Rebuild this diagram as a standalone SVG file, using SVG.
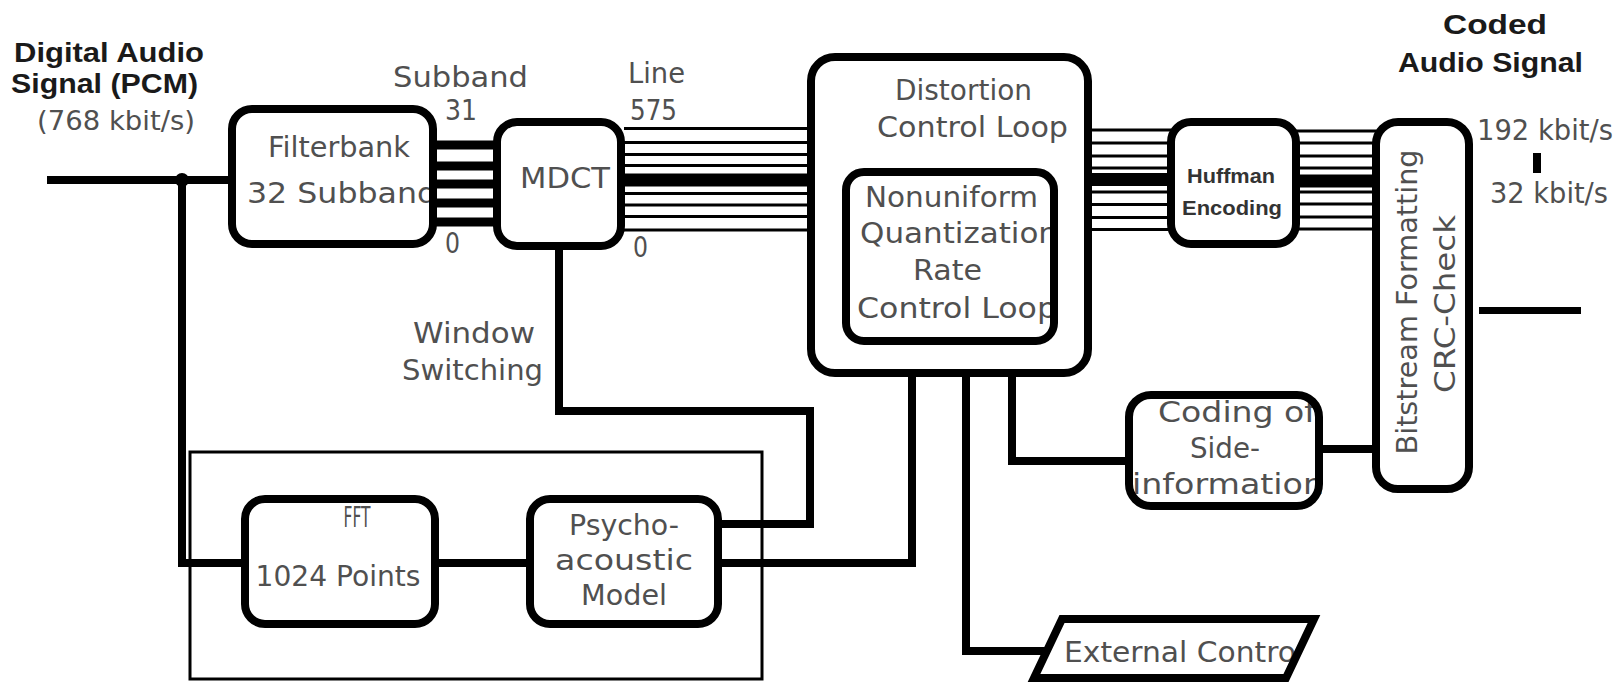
<svg xmlns="http://www.w3.org/2000/svg" width="1618" height="682" viewBox="0 0 1618 682">
<style>
.box{fill:none;stroke:#000;stroke-width:8}
.thin{fill:none;stroke:#000;stroke-width:3}
.wire{fill:none;stroke:#000;stroke-width:8;stroke-linejoin:miter}
.bus{stroke:#000;stroke-width:3}
.busk{stroke:#000;stroke-width:13}
.sb{stroke:#000;stroke-width:9}
.g{font-family:"DejaVu Sans",sans-serif;font-size:29px;fill:#505050}
.b{font-family:"Liberation Sans",Arial,sans-serif;font-weight:bold;font-size:27.5px;fill:#1a1a1a}
.hb{font-family:"Liberation Sans",Arial,sans-serif;font-weight:bold;font-size:21px;fill:#333}
</style>
<rect width="1618" height="682" fill="#fff"/>

<g id="labels">
<text class="b" x="14" y="62" textLength="190" lengthAdjust="spacingAndGlyphs">Digital Audio</text>
<text class="b" x="11" y="93" textLength="187" lengthAdjust="spacingAndGlyphs">Signal (PCM)</text>
<text class="g" x="37" y="130" textLength="158" lengthAdjust="spacingAndGlyphs" style="font-size:27px">(768 kbit/s)</text>
<text class="g" x="393" y="87" textLength="135" lengthAdjust="spacingAndGlyphs">Subband</text>
<text class="g" x="445" y="120" textLength="32" lengthAdjust="spacingAndGlyphs">31</text>
<text class="g" x="445" y="253" textLength="15" lengthAdjust="spacingAndGlyphs">0</text>
<text class="g" x="628" y="83" textLength="57" lengthAdjust="spacingAndGlyphs">Line</text>
<text class="g" x="630" y="120" textLength="47" lengthAdjust="spacingAndGlyphs">575</text>
<text class="g" x="633" y="257" textLength="15" lengthAdjust="spacingAndGlyphs">0</text>
<text class="g" x="413" y="343" textLength="122" lengthAdjust="spacingAndGlyphs">Window</text>
<text class="g" x="402" y="380" textLength="141" lengthAdjust="spacingAndGlyphs">Switching</text>
<text class="b" x="1443" y="34" textLength="104" lengthAdjust="spacingAndGlyphs">Coded</text>
<text class="b" x="1398" y="72" textLength="185" lengthAdjust="spacingAndGlyphs">Audio Signal</text>
<text class="g" x="1477" y="140" textLength="136" lengthAdjust="spacingAndGlyphs">192 kbit/s</text>
<rect x="1533" y="153" width="8" height="20" fill="#000"/>
<text class="g" x="1490" y="203" textLength="118" lengthAdjust="spacingAndGlyphs">32 kbit/s</text>
</g>

<g id="connectors">
<path class="wire" d="M47,180 H232"/>
<circle cx="182" cy="180" r="7" fill="#000"/>
<path class="wire" d="M182,180 V563 H245"/>
<path class="wire" d="M435,563 H530"/>
<path class="wire" d="M718,563 H912 V373"/>
<path class="wire" d="M559,246 V411 H810 V524 H718"/>
<path class="wire" d="M966,373 V651 H1048"/>
<path class="wire" d="M1012,373 V461 H1129"/>
<path class="wire" d="M1319,449 H1376"/>
<path d="M1479,310.5 H1581" stroke="#000" stroke-width="7"/>
<g id="subband-bus">
<line class="sb" x1="433" y1="145" x2="497" y2="145"/>
<line class="sb" x1="433" y1="166" x2="497" y2="166"/>
<line class="sb" x1="433" y1="184" x2="497" y2="184"/>
<line class="sb" x1="433" y1="203" x2="497" y2="203"/>
<line class="sb" x1="433" y1="222" x2="497" y2="222"/>
</g>
<g id="line-bus">
<line class="bus" x1="624" y1="128.5" x2="811" y2="128.5"/>
<line class="bus" x1="624" y1="142.5" x2="811" y2="142.5"/>
<line class="bus" x1="624" y1="154.5" x2="811" y2="154.5"/>
<line class="bus" x1="624" y1="165.5" x2="811" y2="165.5"/>
<line class="busk" x1="624" y1="180" x2="811" y2="180"/>
<line class="bus" x1="624" y1="193.5" x2="811" y2="193.5"/>
<line class="bus" x1="624" y1="205" x2="811" y2="205"/>
<line class="bus" x1="624" y1="216.5" x2="811" y2="216.5"/>
<line class="bus" x1="624" y1="230" x2="811" y2="230"/>
</g>
<g id="huff-in-bus">
<line class="bus" x1="1088" y1="130" x2="1171" y2="130"/>
<line class="bus" x1="1088" y1="143" x2="1171" y2="143"/>
<line class="bus" x1="1088" y1="156" x2="1171" y2="156"/>
<line class="bus" x1="1088" y1="168" x2="1171" y2="168"/>
<line class="busk" x1="1088" y1="179.5" x2="1171" y2="179.5"/>
<line class="bus" x1="1088" y1="192" x2="1171" y2="192"/>
<line class="bus" x1="1088" y1="204.5" x2="1171" y2="204.5"/>
<line class="bus" x1="1088" y1="217.5" x2="1171" y2="217.5"/>
<line class="bus" x1="1088" y1="229.5" x2="1171" y2="229.5"/>
</g>
<g id="huff-out-bus">
<line class="bus" x1="1296" y1="131" x2="1376" y2="131"/>
<line class="bus" x1="1296" y1="143" x2="1376" y2="143"/>
<line class="bus" x1="1296" y1="156" x2="1376" y2="156"/>
<line class="bus" x1="1296" y1="168" x2="1376" y2="168"/>
<line class="busk" x1="1296" y1="181" x2="1376" y2="181"/>
<line class="bus" x1="1296" y1="192" x2="1376" y2="192"/>
<line class="bus" x1="1296" y1="204" x2="1376" y2="204"/>
<line class="bus" x1="1296" y1="217" x2="1376" y2="217"/>
<line class="bus" x1="1296" y1="229" x2="1376" y2="229"/>
</g>
</g>

<g id="psy-group-frame">
<rect class="thin" x="190" y="452" width="572" height="227"/>
</g>

<g id="filterbank">
<text class="g" x="268" y="157" textLength="142" lengthAdjust="spacingAndGlyphs">Filterbank</text>
<text class="g" x="247" y="203" textLength="190" lengthAdjust="spacingAndGlyphs">32 Subband</text>
<rect class="box" x="232" y="109" width="201" height="135" rx="20"/>
</g>

<g id="mdct">
<text class="g" x="520" y="188" textLength="90" lengthAdjust="spacingAndGlyphs">MDCT</text>
<rect class="box" x="497" y="122" width="124" height="124" rx="20"/>
</g>

<g id="distortion">
<text class="g" x="895" y="100" textLength="137" lengthAdjust="spacingAndGlyphs">Distortion</text>
<text class="g" x="877" y="137" textLength="191" lengthAdjust="spacingAndGlyphs">Control Loop</text>
<rect class="box" x="811" y="57" width="277" height="316" rx="24"/>
</g>

<g id="nonuniform">
<text class="g" x="865" y="207" textLength="173" lengthAdjust="spacingAndGlyphs">Nonuniform</text>
<text class="g" x="860" y="243" textLength="198" lengthAdjust="spacingAndGlyphs">Quantization</text>
<text class="g" x="913" y="280" textLength="69" lengthAdjust="spacingAndGlyphs">Rate</text>
<text class="g" x="857" y="318" textLength="200" lengthAdjust="spacingAndGlyphs">Control Loop</text>
<rect class="box" x="846" y="172" width="208" height="169" rx="18"/>
</g>

<g id="huffman">
<text class="hb" x="1187" y="183" textLength="88" lengthAdjust="spacingAndGlyphs">Huffman</text>
<text class="hb" x="1182" y="215" textLength="100" lengthAdjust="spacingAndGlyphs">Encoding</text>
<rect class="box" x="1171" y="122" width="125" height="122" rx="20"/>
</g>

<g id="bitstream">
<text class="g" transform="translate(1417,302) rotate(-90)" text-anchor="middle" textLength="305" lengthAdjust="spacingAndGlyphs">Bitstream Formatting</text>
<text class="g" transform="translate(1455,304) rotate(-90)" text-anchor="middle" textLength="178" lengthAdjust="spacingAndGlyphs">CRC-Check</text>
<rect class="box" x="1376" y="122" width="93" height="367" rx="22"/>
</g>

<g id="side-info">
<text class="g" x="1158" y="422" textLength="158" lengthAdjust="spacingAndGlyphs">Coding of</text>
<text class="g" x="1190" y="458" textLength="70" lengthAdjust="spacingAndGlyphs">Side-</text>
<text class="g" x="1132" y="494" textLength="192" lengthAdjust="spacingAndGlyphs">information</text>
<rect class="box" x="1129" y="395" width="190" height="111" rx="22"/>
</g>

<g id="fft">
<text class="g" x="357" y="527" text-anchor="middle" textLength="27" lengthAdjust="spacingAndGlyphs" style="font-size:28px">FFT</text>
<text class="g" x="338" y="586" text-anchor="middle" textLength="165" lengthAdjust="spacingAndGlyphs">1024 Points</text>
<rect class="box" x="245" y="499" width="190" height="125" rx="20"/>
</g>

<g id="psycho">
<text class="g" x="624" y="535" text-anchor="middle" textLength="110" lengthAdjust="spacingAndGlyphs">Psycho-</text>
<text class="g" x="624" y="570" text-anchor="middle" textLength="138" lengthAdjust="spacingAndGlyphs">acoustic</text>
<text class="g" x="624" y="605" text-anchor="middle" textLength="86" lengthAdjust="spacingAndGlyphs">Model</text>
<rect class="box" x="530" y="499" width="188" height="125" rx="20"/>
</g>

<g id="external-control">
<text class="g" x="1064" y="662" textLength="232" lengthAdjust="spacingAndGlyphs">External Contro</text>
<polygon class="box" points="1062,619 1314,619 1286,678 1034,678"/>
</g>
</svg>
